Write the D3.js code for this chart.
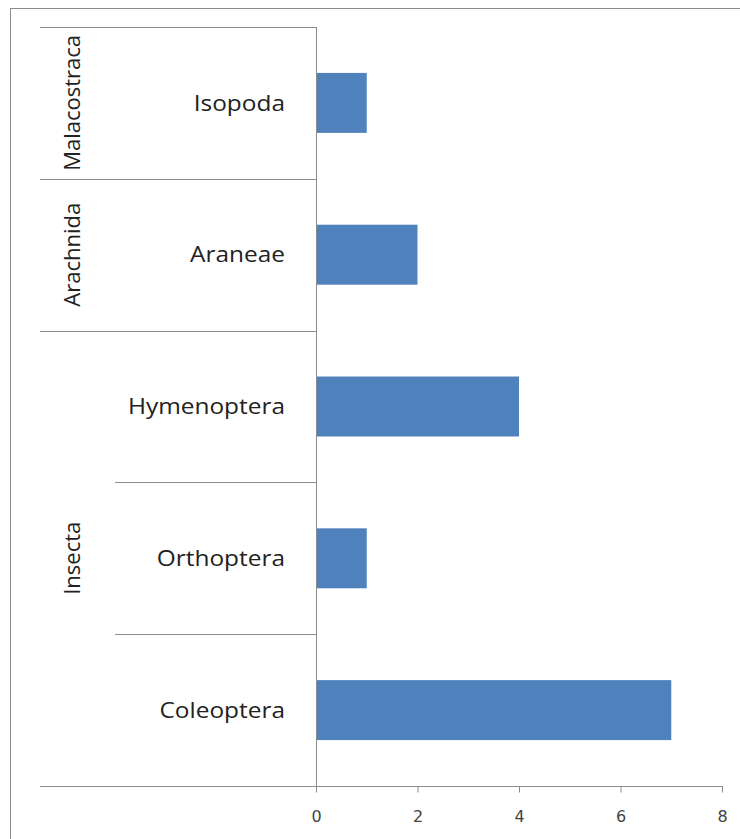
<!DOCTYPE html>
<html>
<head>
<meta charset="utf-8">
<script src="https://cdn.jsdelivr.net/npm/d3@7"></script>
<style>
  body { margin: 0; background: #fff; }
  svg { display: block; }
</style>
</head>
<body>
<div id="chart"></div>
<script>
// data
const orders = ["Isopoda", "Araneae", "Hymenoptera", "Orthoptera", "Coleoptera"];
const orderClass = ["Malacostraca", "Arachnida", "Insecta", "Insecta", "Insecta"];
const classes = ["Malacostraca", "Arachnida", "Insecta"];
const counts = [1, 2, 4, 1, 7];
const xTicks = [0, 2, 4, 6, 8];

const width = 740, height = 839;
const plotTop = 27, plotBottom = 786;
const axisLeftX = 40, innerLeftX = 115;
const lineColor = "#8c8c8c";
const labelFont = "'Open Sans', sans-serif";

const svg = d3.select("#chart").append("svg")
    .attr("width", width)
    .attr("height", height);

// outer frame
svg.append("rect")
    .attr("x", 10.5).attr("y", 8.5)
    .attr("width", width).attr("height", height)
    .attr("fill", "none")
    .attr("stroke", lineColor);

const x = d3.scaleLinear()
    .domain([0, 8])
    .range([316, 722]);

const y = d3.scaleBand()
    .domain(orders)
    .range([plotTop, plotBottom])
    .paddingInner(0.605)
    .paddingOuter(0.3025);

const gap = (y.step() - y.bandwidth()) / 2;

// bars
svg.append("g")
  .selectAll("rect")
  .data(orders)
  .join("rect")
    .attr("x", x(0))
    .attr("y", d => y(d))
    .attr("width", (d, i) => x(counts[i]) - x(0))
    .attr("height", y.bandwidth())
    .attr("fill", "#4f81bd");

// category separators (full width between classes, short within a class)
const seps = svg.append("g").attr("stroke", lineColor).attr("stroke-width", 1);
orders.forEach((d, i) => {
  const yy = Math.round(y(d) - gap) + 0.5;
  const sameClass = i > 0 && orderClass[i - 1] === orderClass[i];
  seps.append("line")
      .attr("x1", sameClass ? innerLeftX : axisLeftX)
      .attr("x2", x(0))
      .attr("y1", yy).attr("y2", yy);
});

// x axis
const xAxis = svg.append("g")
    .attr("transform", `translate(0,${plotBottom + 0.5})`)
    .call(d3.axisBottom(x).tickValues(xTicks).tickSize(6).tickPadding(18));
xAxis.select(".domain").remove();
xAxis.selectAll(".tick line").attr("stroke", lineColor);
xAxis.selectAll(".tick text")
    .attr("fill", "#444")
    .style("font-family", "'DejaVu Sans', sans-serif")
    .style("font-size", "16px");
svg.append("line")
    .attr("x1", axisLeftX).attr("x2", x(8) + 1)
    .attr("y1", plotBottom + 0.5).attr("y2", plotBottom + 0.5)
    .attr("stroke", lineColor);

// y axis line
svg.append("line")
    .attr("x1", x(0) + 0.5).attr("x2", x(0) + 0.5)
    .attr("y1", plotTop).attr("y2", plotBottom + 6)
    .attr("stroke", lineColor);

// order labels (slightly stretched horizontally like the original)
svg.append("g")
  .selectAll("text")
  .data(orders)
  .join("text")
    .attr("transform", d => `translate(285,${y(d) + y.bandwidth() / 2}) scale(1.11,1)`)
    .attr("dy", "0.35em")
    .attr("text-anchor", "end")
    .attr("fill", "#222")
    .style("font-family", labelFont)
    .style("font-size", "22px")
    .text(d => d);

// class labels (rotated)
classes.forEach(c => {
  const members = orders.filter((d, i) => orderClass[i] === c);
  const top = y(members[0]) - gap;
  const bottom = y(members[members.length - 1]) + y.bandwidth() + gap;
  const cy = (top + bottom) / 2;
  svg.append("text")
      .attr("transform", `translate(72,${cy}) rotate(-90)`)
      .attr("dy", "0.35em")
      .attr("text-anchor", "middle")
      .attr("fill", "#222")
      .style("font-family", labelFont)
      .style("font-size", "22px")
      .text(c);
});
</script>
</body>
</html>
